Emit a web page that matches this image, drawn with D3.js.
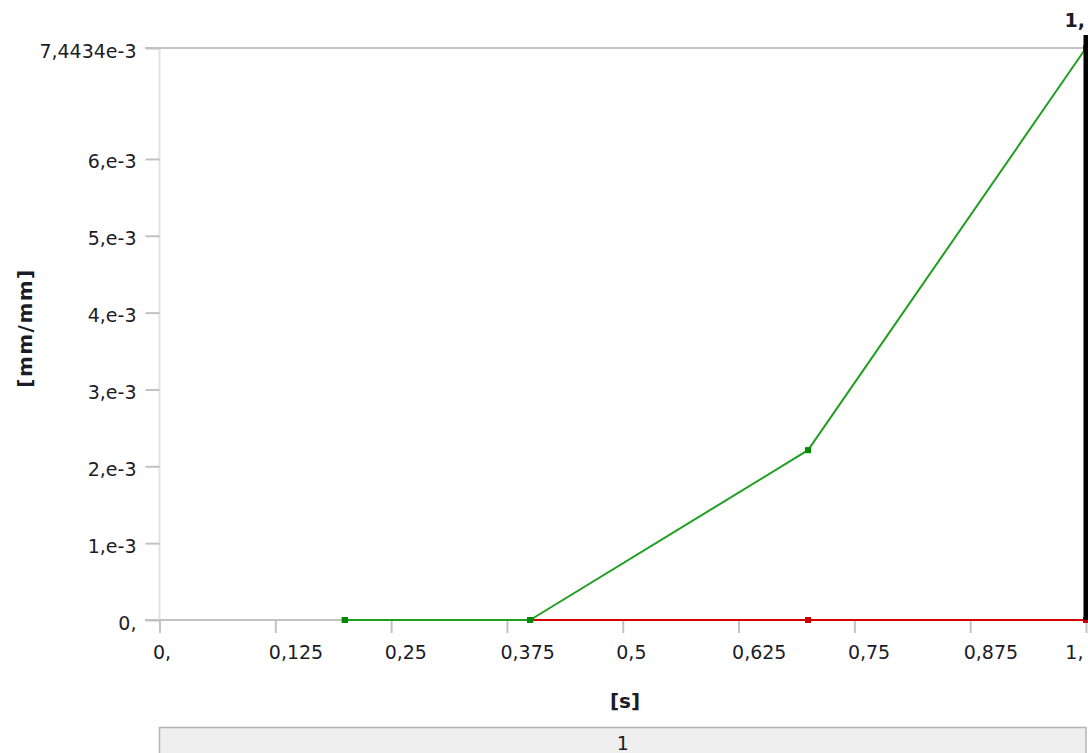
<!DOCTYPE html>
<html>
<head>
<meta charset="utf-8">
<script src="https://cdn.jsdelivr.net/npm/d3@7"></script>
<style>
  html, body { margin: 0; padding: 0; background: #fff; }
  svg { display: block; font-family: "DejaVu Sans", sans-serif; }
</style>
</head>
<body>
<svg id="chart" width="1088" height="753"></svg>
<script>
// ---- data ----
const xTicks = [0, 0.125, 0.25, 0.375, 0.5, 0.625, 0.75, 0.875, 1];
const xTickLabels = ["0,", "0,125", "0,25", "0,375", "0,5", "0,625", "0,75", "0,875", "1,"];
const yTicks = [0, 1e-3, 2e-3, 3e-3, 4e-3, 5e-3, 6e-3, 7.4434e-3];
const yTickLabels = ["0,", "1,e-3", "2,e-3", "3,e-3", "4,e-3", "5,e-3", "6,e-3", "7,4434e-3"];
const time = [0.2, 0.4, 0.7, 1.0];
const greenValues = [0, 0, 2.21e-3, 7.4434e-3];
const redValues = [0, 0, 0, 0];
const currentTime = 1.0;
const currentTimeLabel = "1,";
const xAxisTitle = "[s]";
const yAxisTitle = "[mm/mm]";
const stepLabel = "1";

// ---- drawing ----
const svg = d3.select("#chart");
const textColor = "#1c1c28";
const axisGray = "#c2c2c2";

const x = d3.scaleLinear().domain([0, 1]).range([159.5, 1086]);
const y = d3.scaleLinear().domain([0, 7.4434e-3]).range([620, 48]);

// light left axis line
svg.append("line")
  .attr("x1", x(0)).attr("x2", x(0))
  .attr("y1", y(7.4434e-3)).attr("y2", y(0))
  .attr("stroke", "#e2e2e2").attr("stroke-width", 2);

// top border line
svg.append("line")
  .attr("x1", 145).attr("x2", x(1))
  .attr("y1", y(7.4434e-3)).attr("y2", y(7.4434e-3))
  .attr("stroke", axisGray).attr("stroke-width", 2);

// bottom axis line
svg.append("line")
  .attr("x1", 145).attr("x2", x(1))
  .attr("y1", y(0)).attr("y2", y(0))
  .attr("stroke", axisGray).attr("stroke-width", 2);

// x axis
const gx = svg.append("g")
  .attr("transform", `translate(0,${y(0)})`)
  .call(d3.axisBottom(x).tickValues(xTicks).tickFormat((d, i) => xTickLabels[i]).tickSize(13));
gx.select(".domain").remove();
gx.selectAll(".tick line").attr("stroke", axisGray).attr("stroke-width", 2);
gx.selectAll(".tick text")
  .attr("fill", textColor)
  .attr("font-size", 19)
  .attr("font-family", "DejaVu Sans")
  .attr("dy", null)
  .attr("y", 39)
  .attr("text-anchor", (d, i) => i === xTicks.length - 1 ? "end" : "start")
  .attr("x", (d, i) => i === xTicks.length - 1 ? -3 : -7);

// y axis
const gy = svg.append("g")
  .attr("transform", `translate(${x(0)},0)`)
  .call(d3.axisLeft(y).tickValues(yTicks).tickFormat((d, i) => yTickLabels[i]).tickSize(14));
gy.select(".domain").remove();
gy.selectAll(".tick line").attr("stroke", axisGray).attr("stroke-width", 2);
gy.selectAll(".tick text")
  .attr("fill", textColor)
  .attr("font-size", 19)
  .attr("font-family", "DejaVu Sans")
  .attr("dy", null)
  .attr("y", 9)
  .attr("x", -23)
  .attr("text-anchor", "end");

// series
const line = d3.line().x(d => x(d[0])).y(d => y(d[1]));
const redData = time.map((t, i) => [t, redValues[i]]);
const greenData = time.map((t, i) => [t, greenValues[i]]);

svg.append("path").datum(redData)
  .attr("d", line).attr("fill", "none")
  .attr("stroke", "#d40000").attr("stroke-width", 2);
svg.selectAll(".redPt").data(redData).enter().append("rect")
  .attr("x", d => x(d[0]) - 3).attr("y", d => y(d[1]) - 3)
  .attr("width", 6).attr("height", 6).attr("fill", "#c80000");

svg.append("path").datum(greenData)
  .attr("d", line).attr("fill", "none")
  .attr("stroke", "#1f9f1f").attr("stroke-width", 2)
  .attr("stroke-linejoin", "round");
svg.selectAll(".greenPt").data(greenData).enter().append("rect")
  .attr("x", d => x(d[0]) - 3).attr("y", d => y(d[1]) - 3)
  .attr("width", 6).attr("height", 6).attr("fill", "#008a00");

// current time marker
svg.append("line")
  .attr("x1", x(currentTime)).attr("x2", x(currentTime))
  .attr("y1", 35).attr("y2", y(0))
  .attr("stroke", "#000").attr("stroke-width", 5);
svg.append("text")
  .attr("x", x(currentTime) - 1).attr("y", 27)
  .attr("text-anchor", "end")
  .attr("font-size", 19).attr("font-weight", "bold")
  .attr("fill", textColor)
  .text(currentTimeLabel);

// axis titles
svg.append("text")
  .attr("x", 625).attr("y", 708)
  .attr("text-anchor", "middle")
  .attr("font-size", 20).attr("font-weight", "bold")
  .attr("fill", textColor)
  .text(xAxisTitle);

svg.append("text")
  .attr("transform", "translate(32,328) rotate(-90)")
  .attr("text-anchor", "middle")
  .attr("font-size", 20).attr("font-weight", "bold")
  .attr("letter-spacing", 1.5)
  .attr("fill", textColor)
  .text(yAxisTitle);

// step box
svg.append("rect")
  .attr("x", x(0)).attr("y", 727.5)
  .attr("width", x(1) - x(0)).attr("height", 40)
  .attr("fill", "#efefef").attr("stroke", "#b4b4b4").attr("stroke-width", 1.5);
svg.append("text")
  .attr("x", (x(0) + x(1)) / 2).attr("y", 750)
  .attr("text-anchor", "middle")
  .attr("font-size", 19)
  .attr("fill", textColor)
  .text(stepLabel);
</script>
</body>
</html>
